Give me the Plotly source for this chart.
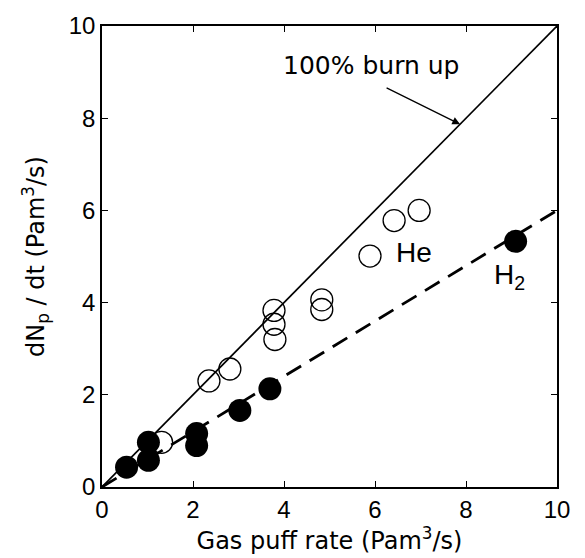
import plotly.graph_objects as go

# Data
he_x = [1.31, 2.35, 2.81, 3.78, 3.78, 3.80, 4.83, 4.83, 5.89, 6.42, 6.97]
he_y = [0.97, 2.30, 2.56, 3.83, 3.53, 3.20, 4.06, 3.85, 5.01, 5.78, 6.00]
h2_x = [0.54, 1.02, 1.02, 2.08, 2.08, 3.03, 3.69, 9.09]
h2_y = [0.43, 0.97, 0.58, 1.16, 0.90, 1.66, 2.13, 5.33]
burn_x = [0, 10]
burn_y = [0, 10]
fit_x = [0, 10]
fit_y = [0, 6]
tick_vals = [0, 2, 4, 6, 8, 10]

FONT = "Liberation Sans, Arial, Helvetica, sans-serif"
WIDE = "DejaVu Sans, Verdana, sans-serif"

fig = go.Figure()
fig.add_trace(go.Scatter(x=burn_x, y=burn_y, mode="lines",
                         line=dict(color="black", width=1.7), showlegend=False))
fig.add_trace(go.Scatter(x=fit_x, y=fit_y, mode="lines",
                         line=dict(color="black", width=2.8, dash="17px,10px"), showlegend=False))
fig.add_trace(go.Scatter(x=he_x, y=he_y, mode="markers",
                         marker=dict(size=22, color="rgba(255,255,255,0)", symbol="circle",
                                     line=dict(color="black", width=1.3)),
                         showlegend=False))
fig.add_trace(go.Scatter(x=h2_x, y=h2_y, mode="markers",
                         marker=dict(size=23, color="black", symbol="circle",
                                     line=dict(color="black", width=0)),
                         showlegend=False))

axis_common = dict(range=[0, 10], tickvals=tick_vals, ticks="inside", ticklen=6,
                   tickwidth=1.3, tickcolor="black", showline=True, linecolor="black",
                   linewidth=1.6, mirror="ticks", showgrid=False, zeroline=False,
                   tickfont=dict(family=FONT, size=24, color="black"))

fig.update_xaxes(**axis_common,
                 title=dict(text="Gas puff rate (Pam<sup>3</sup>/s)",
                            font=dict(family=WIDE, size=24, color="black"), standoff=0))
fig.update_yaxes(**axis_common,
                 title=dict(text="dN<sub>p</sub> / dt (Pam<sup>3</sup>/s)",
                            font=dict(family=WIDE, size=24, color="black"), standoff=17))

fig.add_annotation(x=7.87, y=7.87, xref="x", yref="y", text="", showarrow=True,
                   arrowhead=2, arrowsize=1.2, arrowwidth=1.3, arrowcolor="black",
                   ax=-75, ay=-37, axref="pixel", ayref="pixel", standoff=0)
fig.add_annotation(x=5.92, y=9.15, xref="x", yref="y", text="100% burn up",
                   showarrow=False, font=dict(family=WIDE, size=25, color="black"))
fig.add_annotation(x=6.86, y=5.09, xref="x", yref="y", text="He",
                   showarrow=False, font=dict(family=FONT, size=28, color="black"))
fig.add_annotation(x=8.58, y=4.57, xref="x", yref="y", text="H<sub>2</sub>",
                   xanchor="left", showarrow=False,
                   font=dict(family=FONT, size=28, color="black"))

fig.update_layout(width=585, height=558, margin=dict(l=102, r=28, t=23, b=71),
                  plot_bgcolor="white", paper_bgcolor="white")

fig.write_html("out.html")
